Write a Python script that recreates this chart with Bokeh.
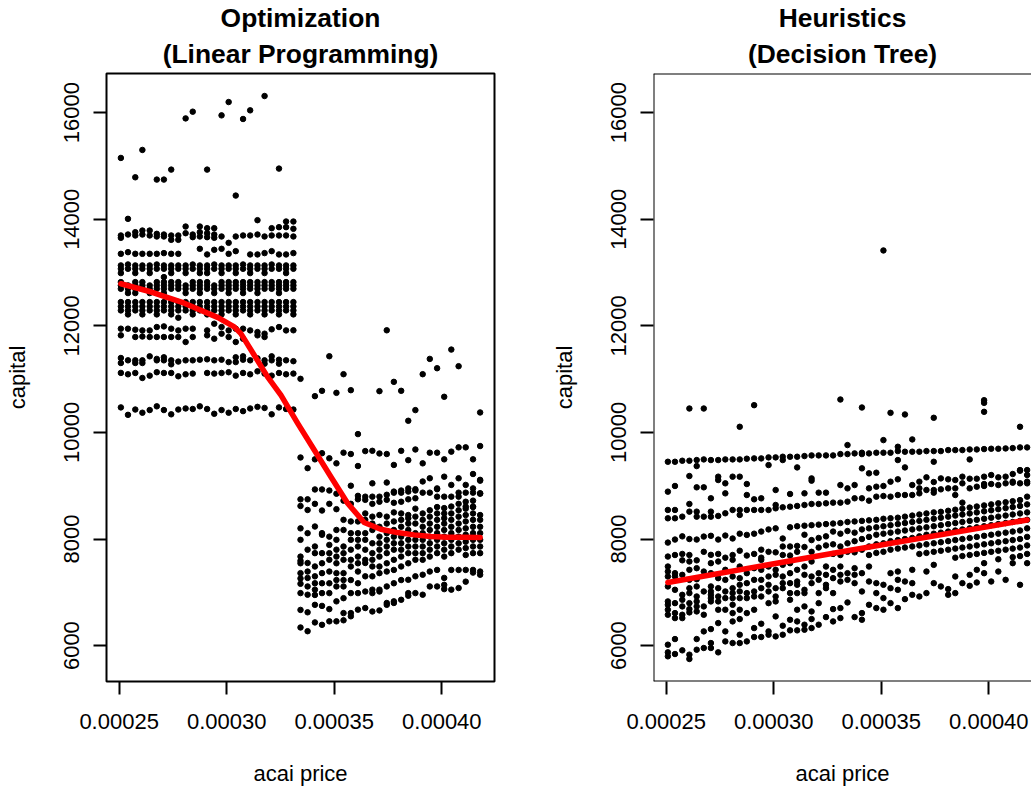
from bokeh.plotting import figure
from bokeh.layouts import row
from bokeh.models import Range1d, FixedTicker, CustomJSTickFormatter, Title, Span
from bokeh.embed import file_html
from bokeh.resources import INLINE

# ---------------- data ----------------
acai_price = [
    0.0002508, 0.0002541, 0.0002575, 0.0002608, 0.0002642, 0.0002675, 0.0002708, 0.0002742,
    0.0002775, 0.0002809, 0.0002842, 0.0002875, 0.0002909, 0.0002942, 0.0002976, 0.0003009,
    0.0003042, 0.0003076, 0.0003109, 0.0003143, 0.0003176, 0.0003209, 0.0003243, 0.0003276,
    0.0003310, 0.0003343, 0.0003376, 0.0003410, 0.0003443, 0.0003477, 0.0003510, 0.0003543,
    0.0003577, 0.0003610, 0.0003644, 0.0003677, 0.0003710, 0.0003744, 0.0003777, 0.0003811,
    0.0003844, 0.0003877, 0.0003911, 0.0003944, 0.0003978, 0.0004011, 0.0004044, 0.0004078,
    0.0004111, 0.0004145, 0.0004178,
]

# capital per acai price column, Linear Programming
opt_capital = [
    [10470, 11117, 11397, 11303, 11947, 11822, 12446, 12365, 12290, 12821, 12759, 12696, 13134, 13071, 12990, 13352, 13696, 13652, 15151],
    [10330, 11091, 11353, 11947, 12446, 12365, 12290, 12215, 12759, 12696, 12615, 13152, 13071, 13383, 13714, 14008],
    [10430, 11116, 11353, 11303, 11928, 11791, 12446, 12365, 12290, 12821, 12759, 12696, 12615, 13134, 13071, 12990, 13352, 13758, 13696, 14788],
    [10370, 11022, 11353, 11303, 11915, 11800, 12446, 12365, 12290, 12215, 12821, 12759, 12696, 13134, 13071, 13352, 13789, 13714, 15301],
    [10420, 11066, 11428, 11915, 11791, 12446, 12365, 12290, 12759, 12696, 12615, 13134, 13071, 12990, 13352, 13789, 13696],
    [10490, 11130, 11380, 11353, 11978, 11791, 12446, 12365, 12290, 12215, 12821, 12759, 12696, 13152, 13071, 13352, 13727, 13677, 14745],
    [10420, 11116, 11410, 11353, 11990, 11791, 12446, 12365, 12290, 12821, 12759, 12696, 12615, 13134, 13071, 12915, 13365, 13714, 13677, 14745],
    [10340, 11116, 11353, 11278, 11947, 11791, 12446, 12365, 12290, 12215, 12821, 12759, 12696, 13134, 13071, 12990, 13352, 13696, 13614, 14932],
    [10430, 11054, 11330, 11915, 11791, 12446, 12365, 12290, 12153, 12821, 12759, 12696, 13134, 13071, 13352, 13696, 13614],
    [10450, 11091, 11353, 11947, 11697, 12446, 12365, 12290, 12759, 12696, 12615, 13134, 13071, 12990, 13864, 13739, 15893],
    [10440, 11104, 11353, 11947, 11791, 12446, 12365, 12290, 12215, 12821, 12759, 12696, 13152, 13071, 13714, 13664, 16019],
    [10490, 11365, 12446, 12365, 12290, 12821, 12759, 12696, 12615, 13134, 13071, 12990, 13446, 13864, 13758, 13677],
    [10440, 11116, 11372, 11915, 11822, 12446, 12365, 12290, 12215, 12821, 12759, 12696, 13134, 13071, 12990, 13340, 13833, 13739, 13664, 14932],
    [10350, 11104, 11353, 12040, 11759, 12446, 12365, 12290, 12759, 12696, 12615, 13152, 13071, 13427, 13833, 13714, 13652],
    [10420, 11116, 11365, 11978, 11853, 12446, 12365, 12290, 12215, 12821, 12759, 12696, 13134, 13071, 12990, 13446, 13677, 15950],
    [10370, 11130, 11320, 11915, 11791, 12446, 12365, 12290, 12821, 12759, 12696, 12615, 13134, 13071, 13352, 13558, 16200],
    [10440, 11066, 11410, 11320, 11947, 11697, 12446, 12365, 12290, 12215, 12821, 12759, 12696, 13134, 13071, 12990, 13402, 13677, 14445],
    [10400, 11116, 11428, 11365, 11947, 11759, 12446, 12365, 12290, 12821, 12759, 12696, 12615, 13152, 13071, 13696, 15882],
    [10450, 11091, 11353, 11915, 12446, 12365, 12290, 12215, 12821, 12759, 12696, 13134, 13071, 12990, 13340, 13696, 16044],
    [10480, 11147, 11390, 11884, 11822, 12446, 12365, 12290, 12821, 12759, 12696, 12615, 13134, 13071, 13340, 13714, 13983],
    [10460, 11104, 11353, 11290, 11853, 11791, 12446, 12365, 12290, 12215, 12821, 12759, 12696, 13134, 13071, 12990, 13365, 13677, 16313],
    [10340, 11066, 11428, 11353, 11935, 12446, 12365, 12290, 12821, 12759, 12696, 13152, 13071, 13402, 13833, 13696],
    [10470, 11116, 11365, 11290, 11978, 12446, 12365, 12290, 12215, 12821, 12759, 12696, 12615, 13134, 13071, 13340, 13852, 13696, 14951],
    [10440, 11091, 11353, 11915, 12446, 12365, 12290, 12821, 12759, 12696, 13134, 13071, 12990, 13340, 13958, 13852, 13696],
    [10430, 11104, 11917, 11337, 12446, 12365, 12290, 12215, 12821, 12759, 12696, 13134, 13071, 13365, 13958, 13821, 13677],
    [11006, 9530, 8745, 8620, 8200, 7985, 7670, 7590, 7545, 7360, 7260, 7160, 6985, 6670, 6340],
    [9330, 8745, 8545, 8110, 7800, 7550, 7390, 7270, 7110, 6955, 6625, 6270],
    [10681, 9495, 8930, 8660, 8235, 7860, 7735, 7485, 7300, 7170, 7050, 6950, 6765, 6435],
    [10781, 9610, 8930, 8535, 8110, 8080, 7735, 7545, 7360, 7170, 6985, 6745, 6390],
    [11430, 9515, 8910, 8660, 8045, 7890, 7735, 7610, 7390, 7170, 6985, 6685, 6455],
    [10743, 9420, 8850, 8560, 8170, 7985, 7800, 7670, 7545, 7360, 7230, 7110, 6830, 6455],
    [11093, 9620, 8720, 8360, 8170, 7860, 7735, 7610, 7360, 7230, 7110, 6890, 6610, 6475],
    [10793, 9595, 9000, 8660, 8330, 8110, 7985, 7800, 7610, 7485, 7230, 6985, 6610, 6550],
    [9969, 9370, 8810, 8745, 8330, 8110, 7985, 7860, 7670, 7545, 7390, 7170, 6985, 6675],
    [9650, 8795, 8735, 8480, 8360, 8110, 7985, 7800, 7610, 7550, 7300, 7015, 6705],
    [9655, 9045, 8795, 8660, 8420, 8290, 8170, 7920, 7735, 7610, 7485, 7300, 7050, 6985, 6640],
    [10775, 9605, 8795, 8700, 8450, 8230, 8045, 7920, 7800, 7670, 7485, 7360, 7050, 7015, 6660],
    [11917, 9595, 9060, 8830, 8735, 8420, 8290, 8110, 7985, 7860, 7735, 7545, 7390, 7110, 6800, 6765],
    [10949, 9390, 8890, 8870, 8680, 8500, 8330, 8170, 8045, 7920, 7800, 7610, 7420, 7170, 6830, 6800],
    [10781, 9655, 8910, 8870, 8700, 8480, 8360, 8230, 8045, 7920, 7800, 7670, 7485, 7230, 6860],
    [10219, 9480, 8950, 8890, 8745, 8450, 8390, 8290, 8170, 7985, 7860, 7735, 7545, 7235, 6985, 6935],
    [10419, 9680, 8935, 8910, 8765, 8570, 8420, 8290, 8110, 7985, 7860, 7735, 7610, 7300, 6985],
    [11093, 9420, 9080, 8870, 8480, 8360, 8230, 8110, 7985, 7860, 7735, 7610, 7330, 6955],
    [11380, 9620, 9140, 8870, 8540, 8420, 8290, 8170, 8045, 7920, 7800, 7670, 7390, 7110],
    [11205, 9620, 8950, 8935, 8795, 8600, 8480, 8360, 8230, 8110, 7985, 7860, 7735, 7420, 7110],
    [10669, 9495, 9170, 8795, 8580, 8480, 8390, 8290, 8170, 8045, 7920, 7800, 7670, 7270, 7140, 7060],
    [11555, 9640, 9015, 8795, 8610, 8480, 8360, 8230, 8110, 7985, 7860, 7735, 7420, 7050],
    [11243, 9720, 9140, 8870, 8795, 8660, 8540, 8420, 8290, 8170, 8045, 7920, 7800, 7420, 7080],
    [9720, 9015, 8870, 8610, 8700, 8570, 8450, 8330, 8200, 8080, 7950, 7830, 7700, 7420, 7200],
    [9495, 9220, 8950, 8870, 8610, 8720, 8600, 8480, 8360, 8230, 8110, 7985, 7860, 7735, 7420, 7370],
    [10375, 9745, 9110, 8850, 9095, 8860, 8450, 8360, 8230, 8110, 7985, 7860, 7735, 7390, 7330],
]

# capital per acai price column, Decision Tree
heu_capital = [
    [9450, 8889, 8545, 8389, 7933, 7671, 7484, 7390, 7297, 7110, 6829, 6766, 6673, 6579, 6017, 5873, 5799],
    [9450, 8995, 8545, 8389, 7990, 7700, 7359, 7297, 7047, 6797, 6610, 6516, 6123, 5842],
    [9469, 8420, 8050, 7720, 7600, 7328, 6953, 6860, 6735, 6579, 6516, 5911],
    [10449, 9469, 9182, 8658, 8514, 8000, 7700, 7578, 7422, 7234, 7078, 6985, 6797, 6685, 6623, 5830, 5749],
    [9482, 9369, 8970, 8514, 8420, 7990, 7600, 7453, 7246, 7110, 6922, 6829, 6735, 6641, 6123, 5923],
    [10449, 9494, 8970, 8420, 8046, 7760, 7390, 7016, 6735, 6579, 6267, 5955],
    [9482, 8764, 8514, 8420, 8060, 7703, 7547, 7359, 7110, 7016, 6953, 6891, 6829, 6310, 6048, 5955],
    [9482, 9170, 9107, 8433, 7990, 7720, 7578, 7266, 7078, 6922, 6829, 6673, 6423, 5873],
    [9494, 9045, 8857, 8483, 8065, 7650, 7422, 7234, 7016, 6891, 6673, 6267, 6079],
    [9494, 9170, 8545, 8010, 7700, 7609, 7297, 7078, 6985, 6891, 6766, 6610, 6454, 6048],
    [10106, 9494, 9170, 8545, 8452, 8100, 7780, 7484, 7266, 7141, 7016, 6891, 6673, 6498, 6204, 6048],
    [9507, 9032, 8826, 8545, 8077, 7690, 7359, 7172, 6985, 6891, 6610, 6079],
    [10512, 9513, 8745, 8545, 8100, 7720, 7453, 7234, 7016, 6922, 6673, 6329, 6161],
    [9513, 8764, 8545, 8140, 7800, 7650, 7609, 7422, 7234, 7078, 6922, 6410, 6161],
    [9532, 9388, 8545, 8180, 7760, 7484, 7297, 7141, 7016, 6797, 6267, 6204],
    [9532, 8920, 8639, 8576, 8200, 7750, 7422, 7328, 7078, 6922, 6829, 6548, 6173],
    [9544, 9482, 8595, 8010, 7860, 7700, 7515, 7297, 7172, 7078, 6373, 6204],
    [9544, 8845, 8607, 8220, 7860, 7690, 7547, 7359, 7172, 6985, 6860, 6485, 6286],
    [9544, 9344, 8620, 8240, 7870, 7760, 7422, 7203, 7141, 6985, 6673, 6454, 6286],
    [9557, 8857, 8639, 8250, 8080, 7850, 7484, 7328, 7047, 6985, 6735, 6392, 6298],
    [9569, 9138, 9095, 8658, 8260, 7980, 7760, 7578, 7297, 7172, 6641, 6498, 6329],
    [9569, 8870, 8658, 8270, 8020, 7840, 7359, 7234, 6985, 6797, 6392],
    [9569, 8870, 8670, 8280, 8050, 7880, 7484, 7328, 7141, 7078, 6535],
    [9569, 8683, 8290, 8140, 7900, 7720, 7422, 7266, 6985, 6685, 6454],
    [10618, 9594, 9013, 8683, 8300, 8100, 7860, 7700, 7484, 7328, 7203, 6704, 6516],
    [9763, 9594, 8951, 8701, 8320, 8150, 7920, 7760, 7359, 7234, 6810],
    [9607, 9013, 8764, 8330, 8120, 7960, 7750, 7453, 7328, 7172, 6535],
    [10468, 9619, 9594, 9326, 8764, 8340, 8180, 8000, 7800, 7359, 7016, 6610, 6485],
    [9607, 9232, 8951, 8720, 8350, 8200, 8040, 7860, 7700, 7484, 7203, 6766],
    [9619, 9244, 8982, 8795, 8360, 8220, 8080, 7900, 7740, 7172, 6985, 6704],
    [13415, 9856, 9619, 8995, 8807, 8380, 8240, 8100, 7920, 7760, 7141, 6891, 6673],
    [10368, 9619, 9076, 8795, 8390, 8260, 8120, 7960, 7800, 7359, 7078, 6797],
    [9731, 9650, 9482, 9120, 8826, 8400, 8280, 8140, 7980, 7820, 7390, 7234, 7047, 6704],
    [10337, 9638, 9344, 8826, 8420, 8300, 8160, 8000, 7840, 7203, 6872],
    [9869, 9638, 9013, 8826, 8440, 8320, 8180, 8020, 7860, 7422, 7172, 6953],
    [9638, 9076, 8951, 8857, 8460, 8340, 8200, 8050, 7880, 7720, 6922],
    [9650, 9157, 8920, 8480, 8360, 8220, 8080, 7900, 7740, 7390, 6985],
    [10275, 9650, 9450, 9070, 8870, 8920, 8500, 8380, 8240, 8100, 7920, 7760, 7515, 7172],
    [9650, 9138, 8932, 8510, 8400, 8260, 8120, 7940, 7780, 7110],
    [9669, 9120, 8951, 8530, 8420, 8280, 8140, 7960, 7800, 7060, 6953],
    [9669, 9107, 8951, 8826, 8550, 8440, 8300, 8160, 7980, 7820, 7650, 7297, 6985],
    [9669, 9170, 9045, 8683, 8570, 8460, 8320, 8180, 8000, 7840, 7680, 7172],
    [9681, 9494, 9132, 8951, 8590, 8480, 8340, 8200, 8020, 7860, 7700, 7328, 7122],
    [9681, 9132, 8982, 8610, 8500, 8360, 8220, 8040, 7880, 7720, 7422, 7184],
    [10605, 10555, 10387, 9688, 9170, 9032, 8995, 8630, 8520, 8380, 8240, 8060, 7900, 7740, 7547, 7359],
    [9694, 9201, 9032, 8650, 8540, 8400, 8260, 8080, 7920, 7760, 7203],
    [9694, 9157, 9013, 8670, 8560, 8420, 8280, 8100, 7940, 7780, 7620, 7390],
    [9700, 9170, 9045, 8690, 8580, 8440, 8300, 8120, 7960, 7800, 7234],
    [9706, 9220, 9076, 9057, 8710, 8600, 8460, 8320, 8140, 7980, 7820, 7660, 7547],
    [10106, 9719, 9282, 9294, 9045, 8730, 8620, 8480, 8340, 8160, 8000, 7840, 7680, 7141],
    [9719, 9294, 9201, 9076, 9045, 8795, 8650, 8500, 8360, 8200, 8040, 7880, 7720, 7547],
]

# smooth (red) curves
opt_smooth_price = [0.0002508, 0.0002650, 0.0002800, 0.0002960, 0.0003035, 0.0003066, 0.0003190,
                    0.0003252, 0.0003330, 0.0003407, 0.0003484, 0.0003562, 0.0003639, 0.0003716,
                    0.0003794, 0.0003871, 0.0003949, 0.0004026, 0.0004103, 0.0004178]
opt_smooth_capital = [12790, 12635, 12430, 12155, 11980, 11855, 11043, 10700, 10169, 9670, 9170,
                      8671, 8309, 8184, 8121, 8078, 8046, 8034, 8034, 8028]
heu_smooth_price = [0.0002508, 0.0003343, 0.0004178]
heu_smooth_capital = [7184, 7780, 8358]

x_ticks = [0.00025, 0.00030, 0.00035, 0.00040]
y_ticks = [6000, 8000, 10000, 12000, 14000, 16000]
x_label = "acai price"
y_label = "capital"

# ---------------- styling ----------------
FONT = "Liberation Sans"
PLOT_W = 388  # full frame width of one panel in pixels

all_caps = [v for col in opt_capital + heu_capital for v in col]
y_min, y_max = min(all_caps), max(all_caps)
y_lo, y_hi = y_min - 0.04 * (y_max - y_min), y_max + 0.04 * (y_max - y_min)
x_min, x_max = min(acai_price), max(acai_price)
x_lo, x_hi = x_min - 0.04 * (x_max - x_min), x_max + 0.04 * (x_max - x_min)


def make_panel(t1, t2, capital, sx, sy, width, border_left, border_right, frame_w):
    xs = [acai_price[i] for i, col in enumerate(capital) for _ in col]
    ys = [v for col in capital for v in col]
    x_end = x_lo + (x_hi - x_lo) * frame_w / PLOT_W
    p = figure(width=width, height=788, x_range=Range1d(x_lo, x_end), y_range=Range1d(y_lo, y_hi),
               output_backend="svg", toolbar_location=None, title=None,
               min_border_left=border_left, min_border_right=border_right,
               min_border_top=72, min_border_bottom=106)
    p.grid.visible = False
    p.background_fill_color = "white"
    p.border_fill_color = "white"

    p.add_layout(Title(text=t2, align="center", text_font=FONT, text_font_size="26.4px",
                       text_font_style="bold", text_color="black", standoff=9), "above")
    p.add_layout(Title(text=t1, align="center", text_font=FONT, text_font_size="26.4px",
                       text_font_style="bold", text_color="black", standoff=0), "above")

    for ax in (p.xaxis[0], p.yaxis[0]):
        ax.axis_line_color = None
        ax.major_tick_line_color = "black"
        ax.major_tick_line_width = 2
        ax.major_tick_out = 13
        ax.major_tick_in = 0
        ax.minor_tick_line_color = None
        ax.major_label_text_font = FONT
        ax.major_label_text_font_size = "22px"
        ax.major_label_text_color = "black"
        ax.axis_label_text_font = FONT
        ax.axis_label_text_font_size = "22px"
        ax.axis_label_text_font_style = "normal"
        ax.axis_label_text_color = "black"
    p.xaxis.ticker = FixedTicker(ticks=x_ticks)
    p.xaxis.formatter = CustomJSTickFormatter(code="return tick.toFixed(5);")
    p.yaxis.ticker = FixedTicker(ticks=y_ticks)
    p.yaxis.formatter = CustomJSTickFormatter(code="return tick.toFixed(0);")
    p.yaxis.major_label_orientation = "vertical"
    p.xaxis.axis_label = x_label
    p.yaxis.axis_label = y_label
    p.xaxis.major_label_standoff = 19
    p.xaxis.axis_label_standoff = 29
    p.yaxis.major_label_standoff = 14
    p.yaxis.axis_label_standoff = 32

    if frame_w >= PLOT_W:
        p.outline_line_color = "black"
        p.outline_line_width = 2
        p.outline_line_alpha = 1
    else:
        p.outline_line_color = None
        p.add_layout(Span(location=y_lo, dimension="width", line_color="black", line_width=2))
        p.add_layout(Span(location=y_hi, dimension="width", line_color="black", line_width=2))
        p.add_layout(Span(location=x_lo, dimension="height", line_color="black", line_width=2))

    p.scatter(xs, ys, size=5.5, color="black", marker="circle")
    p.line(sx, sy, line_color="red", line_width=5.5, line_cap="round", line_join="round")
    return p


p1 = make_panel("Optimization", "(Linear Programming)", opt_capital, opt_smooth_price, opt_smooth_capital,
                520, 106, 26, PLOT_W)
p2 = make_panel("Heuristics", "(Decision Tree)", heu_capital, heu_smooth_price, heu_smooth_capital,
                511, 133, 0, 378)

layout = row(p1, p2)
open("out.html", "w").write(file_html(layout, INLINE))
